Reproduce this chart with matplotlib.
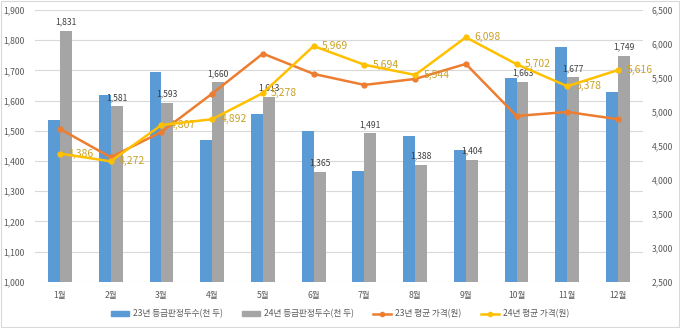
import matplotlib.pyplot as plt
import numpy as np
from matplotlib.lines import Line2D
from matplotlib.patches import Patch, Rectangle

plt.rcParams['font.family'] = ['Noto Sans CJK KR', 'DejaVu Sans']

# 월별 등급판정두수(천 두)와 평균 가격(원)
months = ['1월', '2월', '3월', '4월', '5월', '6월', '7월', '8월', '9월', '10월', '11월', '12월']
heads_23 = [1535, 1618, 1694, 1468, 1556, 1498, 1367, 1483, 1436, 1676, 1776, 1628]
heads_24 = [1831, 1581, 1593, 1660, 1613, 1365, 1491, 1388, 1404, 1663, 1677, 1749]
price_23 = [4749, 4332, 4705, 5269, 5858, 5559, 5397, 5485, 5706, 4940, 4999, 4892]
price_24 = [4386, 4272, 4807, 4892, 5278, 5969, 5694, 5544, 6098, 5702, 5378, 5616]

c_blue = '#5B9BD5'
c_gray = '#A5A5A5'
c_orange = '#ED7D31'
c_yellow = '#FFC000'
c_text = '#595959'

fig = plt.figure(figsize=(6.8, 3.28), dpi=100)
ax = fig.add_axes([34.6 / 680, 46.3 / 328, 608.8 / 680, 271.7 / 328])

x = np.arange(len(months))
w = 0.235
ax.bar(x - w / 2, heads_23, w, color=c_blue, zorder=2)
ax.bar(x + w / 2, heads_24, w, color=c_gray, zorder=2)
for xi, v in zip(x, heads_24):
    ax.annotate(f'{v:,}', (xi + w / 2, v), xytext=(0, 3), textcoords='offset points',
                ha='center', va='bottom', fontsize=6.2, color='#404040')

ax.set_ylim(1000, 1900)
ax.set_yticks(range(1000, 1901, 100))
ax.set_yticklabels([f'{t:,}' for t in range(1000, 1901, 100)])
ax.set_xlim(-0.5, 11.5)
ax.set_xticks(x)
ax.set_xticklabels(months)
ax.grid(axis='y', color='#D9D9D9', linewidth=0.8, zorder=0)
ax.set_axisbelow(True)
for s in ax.spines.values():
    s.set_visible(False)
ax.tick_params(length=0, labelsize=6.2, colors=c_text, pad=7)

ax2 = ax.twinx()
ax2.plot(x, price_23, color=c_orange, linewidth=1.8, marker='o', markersize=3.5, zorder=3)
ax2.plot(x, price_24, color=c_yellow, linewidth=1.8, marker='o', markersize=3.5, zorder=4)
for xi, v in zip(x, price_24):
    ax2.annotate(f'{v:,}', (xi, v), xytext=(6, 0), textcoords='offset points',
                 ha='left', va='center', fontsize=7.5, color='#C9A227')
ax2.set_ylim(2500, 6500)
ax2.set_yticks(range(2500, 6501, 500))
ax2.set_yticklabels([f'{t:,}' for t in range(2500, 6501, 500)])
for s in ax2.spines.values():
    s.set_visible(False)
ax2.tick_params(length=0, labelsize=6.2, colors=c_text, pad=6)

handles = [
    Patch(color=c_blue),
    Patch(color=c_gray),
    Line2D([], [], color=c_orange, linewidth=1.8, marker='o', markersize=3),
    Line2D([], [], color=c_yellow, linewidth=1.8, marker='o', markersize=3),
]
labels = ['23년 등급판정두수(천 두)', '24년 등급판정두수(천 두)', '23년 평균 가격(원)', '24년 평균 가격(원)']
fig.legend(handles, labels, loc='center', bbox_to_anchor=(340 / 680, 14 / 328), ncol=4,
           frameon=False, fontsize=6.2, labelcolor=c_text, handlelength=2.1,
           handleheight=0.6, handletextpad=0.5, columnspacing=2.2)

# 차트 테두리
fig.patches.append(Rectangle((0.001, 0.002), 0.997, 0.995, transform=fig.transFigure,
                             fill=False, edgecolor='#D9D9D9', linewidth=0.8))

fig.savefig('out.png', dpi=100)
